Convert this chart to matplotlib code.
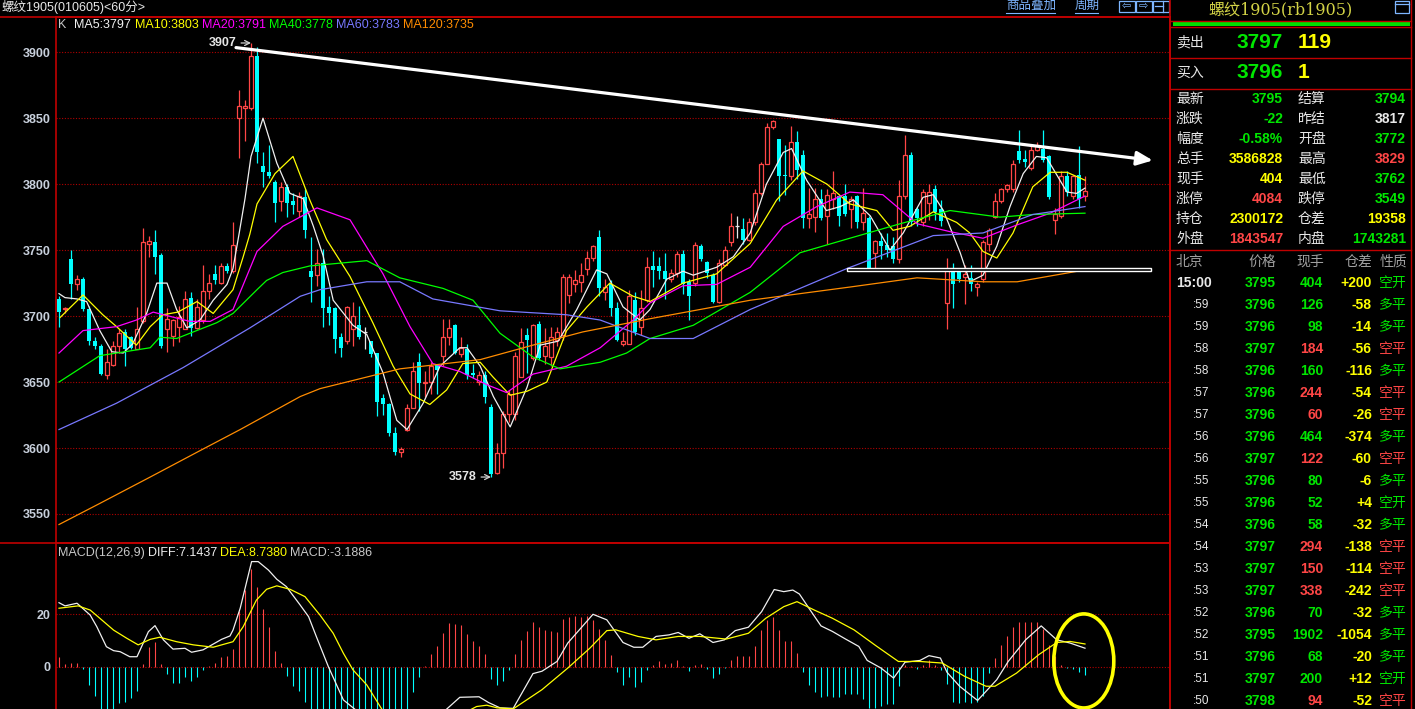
import matplotlib
matplotlib.use('Agg')
import matplotlib.pyplot as plt
from matplotlib.patches import Rectangle, Ellipse
import numpy as np

plt.rcParams['font.family'] = ['Liberation Sans', 'Noto Sans CJK SC', 'DejaVu Sans']

# ---- 60 min candles (open, high, low, close) ----
opens = [3713, 3705, 3743, 3724, 3728, 3705, 3681, 3677, 3655, 3663,
         3677, 3688, 3684, 3675, 3696, 3755, 3756, 3746, 3690, 3685,
         3692, 3690, 3714, 3691, 3697, 3719, 3732, 3725, 3738, 3734,
         3850, 3858, 3858, 3897, 3814, 3809, 3802, 3787, 3798, 3787,
         3780, 3790, 3734, 3731, 3740, 3707, 3706, 3684, 3681, 3690,
         3693, 3688, 3681, 3672, 3638, 3633, 3611, 3597, 3614, 3630,
         3665, 3649, 3650, 3663, 3670, 3684, 3693, 3671, 3675, 3657,
         3650, 3655, 3631, 3581, 3596, 3626, 3626, 3654, 3686, 3668,
         3694, 3670, 3669, 3682, 3686, 3716, 3724, 3726, 3736, 3744,
         3760, 3718, 3724, 3706, 3679, 3679, 3712, 3692, 3712, 3738,
         3738, 3734, 3728, 3733, 3747, 3726, 3725, 3753, 3741, 3731,
         3711, 3739, 3756, 3768, 3766, 3758, 3771, 3793, 3815, 3843,
         3834, 3807, 3806, 3832, 3822, 3774, 3775, 3789, 3776, 3789,
         3791, 3791, 3781, 3791, 3771, 3774, 3748, 3757, 3754, 3753,
         3743, 3791, 3822, 3781, 3771, 3786, 3796, 3781, 3710, 3734,
         3734, 3730, 3729, 3722, 3728, 3755, 3775, 3787, 3796, 3796,
         3825, 3819, 3812, 3826, 3827, 3821, 3773, 3776, 3806, 3791,
         3807, 3791]
highs = [3715, 3707, 3750, 3731, 3730, 3708, 3684, 3679, 3675, 3681,
         3690, 3690, 3685, 3707, 3767, 3761, 3765, 3748, 3706, 3698,
         3708, 3719, 3718, 3713, 3739, 3732, 3739, 3740, 3740, 3771,
         3871, 3864, 3907, 3904, 3824, 3830, 3803, 3802, 3800, 3793,
         3794, 3796, 3760, 3751, 3751, 3715, 3707, 3687, 3708, 3711,
         3708, 3692, 3681, 3672, 3641, 3634, 3616, 3601, 3633, 3665,
         3672, 3658, 3665, 3664, 3698, 3698, 3694, 3684, 3679, 3664,
         3658, 3658, 3633, 3604, 3628, 3644, 3673, 3691, 3691, 3694,
         3696, 3691, 3692, 3692, 3732, 3732, 3735, 3740, 3749, 3754,
         3765, 3728, 3727, 3711, 3688, 3720, 3718, 3720, 3745, 3749,
         3745, 3748, 3736, 3749, 3750, 3728, 3756, 3755, 3742, 3733,
         3743, 3753, 3778, 3776, 3774, 3774, 3796, 3817, 3846, 3849,
         3834, 3830, 3844, 3840, 3826, 3797, 3797, 3796, 3796, 3810,
         3792, 3800, 3791, 3792, 3797, 3776, 3758, 3763, 3763, 3760,
         3803, 3837, 3824, 3783, 3796, 3800, 3799, 3788, 3744, 3740,
         3735, 3739, 3739, 3726, 3758, 3767, 3793, 3797, 3800, 3818,
         3841, 3826, 3830, 3832, 3841, 3822, 3782, 3810, 3810, 3807,
         3829, 3806]
lows = [3692, 3702, 3713, 3720, 3704, 3678, 3675, 3655, 3652, 3662,
        3672, 3662, 3675, 3675, 3695, 3745, 3732, 3676, 3673, 3677,
        3680, 3690, 3685, 3690, 3695, 3713, 3724, 3724, 3733, 3733,
        3820, 3833, 3856, 3816, 3798, 3805, 3771, 3780, 3775, 3777,
        3775, 3759, 3711, 3723, 3692, 3693, 3672, 3669, 3679, 3677,
        3683, 3675, 3669, 3624, 3625, 3609, 3595, 3593, 3613, 3630,
        3628, 3639, 3641, 3641, 3662, 3678, 3671, 3669, 3652, 3653,
        3648, 3634, 3578, 3580, 3585, 3620, 3621, 3654, 3657, 3667,
        3667, 3664, 3662, 3677, 3682, 3710, 3718, 3718, 3731, 3742,
        3715, 3712, 3700, 3681, 3677, 3679, 3686, 3686, 3711, 3722,
        3728, 3713, 3726, 3730, 3717, 3697, 3723, 3742, 3729, 3710,
        3710, 3738, 3753, 3759, 3755, 3757, 3769, 3792, 3815, 3842,
        3787, 3792, 3803, 3804, 3767, 3767, 3764, 3773, 3755, 3781,
        3768, 3776, 3767, 3767, 3765, 3736, 3734, 3743, 3745, 3740,
        3740, 3789, 3768, 3768, 3768, 3773, 3773, 3768, 3690, 3706,
        3726, 3709, 3719, 3715, 3726, 3749, 3774, 3786, 3794, 3794,
        3816, 3813, 3811, 3825, 3817, 3789, 3762, 3774, 3791, 3789,
        3782, 3787]
closes = [3703, 3706, 3724, 3728, 3705, 3681, 3677, 3656, 3665, 3677,
          3687, 3675, 3676, 3690, 3756, 3757, 3745, 3677, 3698, 3697,
          3699, 3713, 3691, 3707, 3719, 3725, 3727, 3738, 3734, 3754,
          3859, 3859, 3897, 3824, 3809, 3806, 3786, 3798, 3786, 3784,
          3791, 3765, 3730, 3740, 3706, 3702, 3683, 3676, 3707, 3700,
          3684, 3688, 3671, 3635, 3633, 3611, 3597, 3599, 3630, 3658,
          3649, 3650, 3662, 3659, 3684, 3691, 3672, 3676, 3655, 3655,
          3655, 3639, 3580, 3596, 3626, 3641, 3670, 3680, 3682, 3693,
          3668, 3677, 3684, 3688, 3730, 3730, 3727, 3731, 3744, 3753,
          3721, 3722, 3706, 3682, 3681, 3715, 3688, 3706, 3737, 3735,
          3734, 3728, 3733, 3747, 3724, 3715, 3754, 3743, 3733, 3711,
          3740, 3750, 3768, 3768, 3758, 3771, 3793, 3815, 3843, 3848,
          3806, 3806, 3832, 3811, 3774, 3777, 3789, 3774, 3792, 3793,
          3776, 3777, 3789, 3771, 3778, 3736, 3757, 3753, 3750, 3743,
          3791, 3822, 3771, 3774, 3794, 3794, 3779, 3772, 3735, 3724,
          3728, 3732, 3724, 3724, 3756, 3765, 3787, 3796, 3799, 3815,
          3818, 3817, 3826, 3829, 3818, 3790, 3777, 3806, 3794, 3806,
          3789, 3795]

# ---- moving averages: (bar, value) ----
ma5 = [(0, 3717), (1, 3714), (3, 3713), (4.6, 3711), (6.8, 3689), (8.8, 3673), (10.7, 3672),
       (12.3, 3679), (14.6, 3702), (16.3, 3725), (18, 3725), (19.6, 3705), (21.3, 3691),
       (23.5, 3697), (25.7, 3712), (28, 3724), (29, 3736), (30, 3762), (31, 3789), (32, 3821),
       (34, 3850), (36.3, 3816), (38.5, 3793), (40.7, 3789), (42.4, 3768), (44, 3746),
       (45.7, 3712), (49, 3693), (51.3, 3686), (54, 3657), (56.3, 3621), (58, 3614),
       (60.7, 3634), (63.5, 3662), (66.8, 3676), (68, 3676), (70.2, 3662), (72.4, 3639),
       (75.2, 3616), (78, 3646), (80.2, 3678), (83.2, 3681), (86.3, 3705), (89.6, 3735),
       (91.3, 3732), (94, 3707), (96.8, 3697), (98.5, 3705), (101.3, 3728), (104, 3734),
       (105.7, 3731), (109.6, 3737), (112.4, 3745), (115.2, 3763), (117.9, 3800),
       (120.7, 3824), (122.1, 3827), (124.6, 3803), (127.9, 3780), (130.2, 3783),
       (132.4, 3788), (135.2, 3776), (138.5, 3750), (140.7, 3763), (144, 3790),
       (145.7, 3792), (147.4, 3780), (150.2, 3748), (151.8, 3726), (154, 3731),
       (156.3, 3753), (158.5, 3783), (160.7, 3808), (162.9, 3821), (164.6, 3820),
       (166.3, 3807), (168, 3794), (169.6, 3793), (171, 3797)]
ma10 = [(0.2, 3699), (4, 3716), (7.3, 3701), (9.6, 3692), (12.9, 3678), (15.2, 3692),
        (17.3, 3701), (19.8, 3703), (23, 3711), (25.7, 3702), (29, 3720), (30.7, 3745),
        (31.8, 3762), (33, 3785), (36, 3808), (39, 3821), (41.8, 3788), (44.6, 3758),
        (48.5, 3730), (52.3, 3695), (55.7, 3662), (58.5, 3641), (61.8, 3633), (64.6, 3644),
        (67.3, 3664), (70.2, 3665), (72.3, 3654), (75.2, 3640), (78, 3643), (81.3, 3650),
        (84.6, 3689), (88, 3707), (91.8, 3725), (95.7, 3715), (98.5, 3711), (104, 3725),
        (109.6, 3732), (115.2, 3755), (119.6, 3788), (124, 3810), (128, 3800),
        (131.8, 3785), (136.3, 3780), (139, 3765), (141.8, 3768), (145.7, 3779),
        (149.6, 3771), (151.8, 3763), (154, 3749), (156.3, 3744), (159, 3763),
        (162.3, 3798), (165.2, 3809), (168, 3809), (171, 3803)]
ma20 = [(0, 3672), (4, 3689), (9.6, 3692), (12.9, 3697), (15.7, 3703), (21.8, 3696),
        (25.2, 3696), (29, 3705), (33, 3749), (37.3, 3768), (43, 3782), (48.5, 3773),
        (54, 3732), (58.5, 3692), (62.3, 3664), (66.8, 3658), (71.3, 3648), (74.6, 3642),
        (79, 3656), (84.6, 3662), (90.2, 3676), (95.7, 3697), (98.5, 3710), (104, 3723),
        (109.6, 3724), (115.2, 3737), (120.7, 3768), (126.3, 3783), (131.8, 3794),
        (137.3, 3792), (143, 3770), (148.5, 3764), (154, 3759), (159.6, 3769),
        (165.2, 3778), (171, 3791)]
ma40 = [(0, 3650), (6.8, 3670), (15.2, 3676), (16.8, 3684), (19.6, 3683), (26.3, 3695),
        (29, 3702), (33, 3720), (34.6, 3727), (37.3, 3733), (41.8, 3738), (51.3, 3742),
        (56.8, 3729), (64, 3721), (69, 3712), (73.5, 3687), (79, 3669), (83.5, 3660),
        (90.2, 3665), (94.6, 3672), (98.5, 3683), (105.7, 3693), (115.2, 3718),
        (123.5, 3748), (131.8, 3759), (140.2, 3770), (148.5, 3780), (156.8, 3775),
        (162.3, 3777), (171, 3778)]
ma60 = [(0, 3614), (9.6, 3634), (20.7, 3661), (31.8, 3691), (40.2, 3715), (43.5, 3720),
        (51.3, 3726), (56.8, 3726), (62.3, 3713), (73.5, 3704), (84.6, 3701), (90.2, 3697),
        (98.5, 3683), (105.7, 3683), (115.2, 3705), (131.3, 3736), (145.7, 3761),
        (154, 3763), (162.3, 3777), (171, 3783)]
ma120 = [(0, 3542), (6.8, 3558), (15.2, 3578), (23.5, 3598), (30.2, 3614), (40.2, 3639),
         (43.5, 3645), (56.8, 3660), (70.2, 3667), (79, 3678), (87.3, 3688), (98.5, 3698),
         (115.2, 3712), (131.8, 3722), (143, 3729), (154, 3726), (159.7, 3726), (171, 3735)]
ma_names = ['MA5', 'MA10', 'MA20', 'MA40', 'MA60', 'MA120']
ma_last = [3797, 3803, 3791, 3778, 3783, 3735]

# ---- MACD(12,26,9) ----
macd_hist = [3.8, 1.1, 1.5, 1.5, -0.9, -6.8, -11, -17, -18.5, -17,
             -13.5, -13.2, -11.9, -9, 1.1, 7.7, 9.5, 1.1, -2.8, -6,
             -6, -3.7, -5.2, -3.7, -1.1, 0.4, 1.6, 3.9, 4.3, 7,
             21.4, 29.2, 37.2, 30.4, 22, 15, 6.1, 1.6, -3.3, -7.1,
             -9.2, -13.2, -17, -22, -26, -30, -33, -35, -35, -34,
             -32, -30, -28, -26, -24, -22, -20, -18, -17, -9.4,
             -3.7, 0.4, 4.9, 8, 12.9, 16.7, 16.3, 15.9, 12.5, 10,
             8, 4.9, -4.4, -7, -5.4, -1.3, 5, 10.3, 13.8, 16.9,
             15, 14.1, 13.8, 13.1, 18.1, 19.1, 19.4, 19.1, 19.4, 17.9,
             14.3, 10.1, 4.7, -2, -6.9, -3.8, -7.7, -5.8, -1.3, 0.8,
             2.1, 1.3, 1.5, 2.8, 0.5, -1.6, 0.8, 1.1, -0.8, -4.2,
             -2.6, -0.5, 2.5, 4.3, 4.0, 4.3, 7.8, 14.1, 17.9, 19.1,
             14.1, 9.7, 9.7, 5.5, -2, -7, -9.6, -11.3, -11.1, -11.3,
             -11.3, -10.1, -10.1, -10.4, -12.1, -15.5, -15.5, -14.8, -14.2, -14.2,
             -7.3, 0.9, 0.5, -0.8, 0.9, 2.8, 0.9, -1, -6.3, -13.3,
             -13.6, -13.3, -13.6, -13.3, -11.1, -2.3, 3.4, 8.4, 11.6, 15.1,
             17.2, 17.2, 17.2, 16.9, 14.3, 8.4, 4, 0.9, -0.4, -0.6,
             -2, -3.19]
diff = [(0, 24.4), (1, 23.2), (3, 24.2), (5.2, 19.7), (6.3, 15.3), (7.9, 7.7), (9.1, 6.2),
        (10.2, 5.8), (11.8, 3.9), (13, 3.9), (14.9, 13.4), (16, 15.7), (17.4, 10.3),
        (19, 6.8), (21, 7.1), (22.1, 5.6), (24, 6.5), (27.1, 10.5), (28.5, 11.8), (29, 14),
        (30.2, 22.3), (32.1, 40), (33.2, 40), (34.9, 36.8), (36.3, 33.3), (37.9, 30.5),
        (40.2, 23.5), (41.6, 19.1), (42.9, 11.5), (44.9, 0.1), (47.4, -12.5), (49.3, -16),
        (52, -21), (55, -25), (58, -26), (61, -23), (63, -19), (64.6, -16), (66.8, -11.5),
        (70, -11.3), (71.6, -13.5), (73.5, -15.5), (75.7, -15.7), (79, -2.5), (80.5, -1.6),
        (83, 2.1), (84.8, 9.1), (89, 20), (91.3, 17.9), (94, 9.3), (95.8, 7.5), (97.3, 7.5),
        (99.5, 11.6), (101.7, 12.2), (103.2, 13.1), (105, 10.9), (106.8, 12.6), (109, 9.3),
        (110.9, 10.3), (112.7, 13.8), (114.9, 15.1), (117.1, 21), (119.2, 29.4),
        (120.8, 28.6), (122.3, 29.2), (123.4, 27.7), (125.2, 21.6), (127, 15.6),
        (128.9, 13.5), (131.1, 10.6), (133.3, 7.8), (134.7, 2.5), (137, -0.4),
        (139.1, -4.2), (141, 1.8), (143.5, 2.5), (145, 4.3), (146.9, 3.4), (148, -2),
        (150.1, -7.3), (153.1, -12.7), (156.3, -4.8), (158.2, 2.1), (161.1, 10.3),
        (163.7, 15.6), (166.3, 10.3), (168.5, 9.1), (171, 7.14)]
dea = [(0, 22.3), (3.2, 23.2), (5.2, 21.6), (6.8, 18.5), (9.1, 14), (11.3, 10.9), (13.2, 8.4),
       (15.2, 10.5), (16.8, 11.3), (19.6, 9.6), (22.4, 8.4), (25.7, 7.5), (29, 9.6),
       (30.7, 15.3), (32.9, 25.4), (34.6, 29.5), (36.3, 30.8), (38.5, 29.5), (41, 26.7),
       (43.5, 19.7), (45.7, 12.8), (47.4, 5.2), (49, -1.1), (51.3, -6.8), (53.8, -16),
       (56, -19), (59, -21), (62, -21.5), (65, -20), (67.5, -17.5), (69.6, -15),
       (71.3, -14.5), (73, -15.5), (75.7, -15.9), (80.5, -8.6), (84.8, -0.4), (88.5, 7.2),
       (91.3, 13.8), (92.8, 14.1), (96.5, 11.6), (99.5, 10.3), (103.2, 11.6), (106.8, 11.6),
       (111.2, 10.6), (114.9, 12.8), (117.8, 18.5), (120.8, 22.9), (123, 24.8),
       (125.9, 21.6), (128.9, 18.5), (132.5, 14.1), (136.2, 8), (139.9, 2.1), (143.5, 2.1),
       (147.2, 1.5), (150.9, -3.5), (154.5, -7.3), (156, -7.3), (159.6, -2.3), (163.3, 4.7),
       (166.3, 9.3), (168.5, 9.7), (171, 8.74)]
macd_text = ['MACD(12,26,9)', 'DIFF:7.1437', 'DEA:8.7380', 'MACD:-3.1886']

# drawn annotations
trend_start = (29.5, 3903.5)
trend_end = (182.3, 3818.0)
support_from, support_to, support_level = 131.3, 182.0, 3735.3
high_mark = (32, 3907)
low_mark = (72, 3578)

# ---- quote panel ----
title_left = '螺纹1905(010605)<60分>'
title_right = '螺纹1905(rb1905)'
ask_price, ask_vol = '3797', '119'
bid_price, bid_vol = '3796', '1'
quote_lab_l = ['最新', '涨跌', '幅度', '总手', '现手', '涨停', '持仓', '外盘']
quote_val_l = ['3795', '-22', '-0.58%', '3586828', '404', '4084', '2300172', '1843547']
quote_lab_r = ['结算', '昨结', '开盘', '最高', '最低', '跌停', '仓差', '内盘']
quote_val_r = ['3794', '3817', '3772', '3829', '3762', '3549', '19358', '1743281']
tick_head = ['北京', '价格', '现手', '仓差', '性质']
tick_time = ['15:00', ':59', ':59', ':58', ':58', ':57', ':57', ':56', ':56', ':55',
             ':55', ':54', ':54', ':53', ':53', ':52', ':52', ':51', ':51', ':50']
tick_price = [3795, 3796, 3796, 3797, 3796, 3796, 3796, 3796, 3797, 3796,
              3796, 3796, 3797, 3797, 3797, 3796, 3795, 3796, 3797, 3798]
tick_vol = [404, 126, 98, 184, 160, 244, 60, 464, 122, 80,
            52, 58, 294, 150, 338, 70, 1902, 68, 200, 94]
tick_oi = ['+200', '-58', '-14', '-56', '-116', '-54', '-26', '-374', '-60', '-6',
           '+4', '-32', '-138', '-114', '-242', '-32', '-1054', '-20', '+12', '-52']
tick_kind = ['空开', '多平', '多平', '空平', '多平', '空平', '空平', '多平', '空平', '多平',
             '空开', '多平', '空平', '空平', '空平', '多平', '多平', '多平', '空开', '空平']

# ---- styles ----
RED = '#FF4646'
CYAN = '#00FFFF'
FRAME = '#C00000'
GRID = '#B00000'
GREEN = '#00E600'
YEL = '#FFFF00'
WHITE = '#E8E8E8'
GRAY = '#A0A0A0'
LINK = '#7EB6FF'
ma_colors = ['#F0F0F0', '#FFFF00', '#FF00FF', '#00FF00', '#7878FF', '#FF8C00']
col_l = [GREEN, GREEN, GREEN, YEL, YEL, RED, YEL, RED]
col_r = [GREEN, WHITE, GREEN, RED, GREEN, GREEN, YEL, GREEN]

W, H = 1415, 709
L, R, T, M = 56, 1170, 17, 543
fig = plt.figure(figsize=(W / 100, H / 100), dpi=100, facecolor='black')
ax = fig.add_axes([L / W, 1 - M / H, (R - L) / W, (M - T) / H], facecolor='black')
mx = fig.add_axes([L / W, 0, (R - L) / W, (H - M) / H], facecolor='black')

for a in (ax, mx):
    a.set_xlim((L - 59) / 6, (R - 59) / 6)
    for s in a.spines.values():
        s.set_color(FRAME)
        s.set_linewidth(1.2)
    a.tick_params(axis='x', bottom=False, labelbottom=False)
    a.tick_params(axis='y', length=0, pad=4, colors='#C8D0DC', labelsize=9)
mx.spines['bottom'].set_visible(False)

ax.set_ylim(3528.0, 3926.7)
ax.set_yticks(range(3550, 3901, 50))
mx.set_ylim(-15.94, 47.06)
mx.set_yticks([0, 20])
for a in (ax, mx):
    for t in a.get_yticklabels():
        t.set_fontweight('bold')
for v in range(3550, 3901, 50):
    ax.axhline(v, color=GRID, lw=0.8, ls=(0, (1, 1.5)), zorder=1)
for v in (0, 20):
    mx.axhline(v, color=GRID, lw=0.8, ls=(0, (1, 1.5)), zorder=1)

# candles
o = np.array(opens, float)
h = np.array(highs, float)
lo = np.array(lows, float)
c = np.array(closes, float)
x = np.arange(len(c))
up, dn, eq = c > o, c < o, c == o
wick_col = np.where(up, RED, np.where(dn, CYAN, WHITE))
ax.vlines(x, lo, h, colors=wick_col, lw=0.9, zorder=3)
bot = np.minimum(o, c)
hgt = np.abs(c - o)
ax.bar(x[up], hgt[up], bottom=bot[up], width=0.64, facecolor='black',
       edgecolor=RED, lw=0.9, zorder=4)
ax.bar(x[dn], hgt[dn], bottom=bot[dn], width=0.8, color=CYAN, lw=0, zorder=4)
ax.hlines(c[eq], x[eq] - 0.4, x[eq] + 0.4, colors=WHITE, lw=0.9, zorder=4)

for pts, colr in zip([ma5, ma10, ma20, ma40, ma60, ma120], ma_colors):
    xs, ys = zip(*pts)
    ax.plot(xs, ys, color=colr, lw=0.9, zorder=5)

ax.annotate('', xy=trend_end, xytext=trend_start, zorder=7,
            arrowprops=dict(arrowstyle='-|>,head_length=0.8,head_width=0.35',
                            color='white', lw=2.3, mutation_scale=12, shrinkA=0, shrinkB=0))
ax.add_patch(Rectangle((support_from, support_level - 0.8), support_to - support_from, 1.6,
                       facecolor='black', edgecolor='white', lw=1.0, zorder=7))
for (mx_i, my_v) in (high_mark, low_mark):
    ax.annotate(f'{my_v}', xy=(mx_i, my_v), xytext=(mx_i - 2.35, my_v), ha='right', va='center',
                color='#E6E6E6', fontsize=9, fontweight='bold', zorder=8,
                arrowprops=dict(arrowstyle='->', color='#D0D0D0', lw=0.9, shrinkA=1, shrinkB=0))

# MACD panel
hist = np.array(macd_hist)
mx.vlines(x, 0, hist, colors=np.where(hist >= 0, RED, CYAN), lw=0.8, zorder=3)
xs, ys = zip(*diff)
mx.plot(xs, ys, color='#F0F0F0', lw=0.9, zorder=4)
xs, ys = zip(*dea)
mx.plot(xs, ys, color=YEL, lw=0.9, zorder=4)
mx.add_patch(Ellipse((170.8, 2.3), 10.0, 35.7, fill=False, ec=YEL, lw=2.6, zorder=6, clip_on=False))

# overlay in pixel coordinates for headers and quote panel
ov = fig.add_axes([0, 0, 1, 1])
ov.set_xlim(0, W)
ov.set_ylim(H, 0)
ov.axis('off')
ov.set_zorder(10)

ov.plot([0, R], [T, T], color=FRAME, lw=1.2)
ov.plot([0, R], [M, M], color=FRAME, lw=1.2)
ov.plot([R, R], [0, H], color=FRAME, lw=1.2)
ov.plot([1411, 1411], [0, H], color=FRAME, lw=1.0)
for yy in (20.8, 26.8, 57.5, 89.3, 249.5):
    ov.plot([R, 1411], [yy, yy], color=FRAME, lw=1.0)
ov.add_patch(Rectangle((1173, 21.8), 237, 4.3, color='#00E000', lw=0))

ov.text(1, 7, title_left, color=WHITE, fontsize=9, va='center', ha='left')
ov.text(1006, 6, '商品叠加', color=LINK, fontsize=9, va='center')
ov.plot([1006, 1055], [13, 13], color=LINK, lw=0.8)
ov.text(1075, 6, '周期', color=LINK, fontsize=9, va='center')
ov.plot([1075, 1098], [13, 13], color=LINK, lw=0.8)
for bx, sym in ((1119, '⇦'), (1136, '⇨'), (1153, '')):
    ov.add_patch(Rectangle((bx, 0.5), 15.5, 11, fill=False, ec=LINK, lw=0.9))
    if sym:
        ov.text(bx + 7.8, 6, sym, color=LINK, fontsize=8, ha='center', va='center',
                family=['DejaVu Sans'])
ov.plot([1163, 1163], [0.5, 11.5], color=LINK, lw=0.9)
ov.plot([1155, 1163], [6, 6], color=LINK, lw=0.9)

# K line legend
legend_x = [74, 135, 202, 269, 336, 403]
ov.text(58, 25, 'K', color='#C8C8C8', fontsize=9, va='center')
for lx, nm, val, colr in zip(legend_x, ma_names, ma_last, ma_colors):
    ov.text(lx, 25, f'{nm}:{val}', color=colr, fontsize=9, va='center')
for lx, s, colr in zip([58, 148, 220, 290], macd_text, ['#C8C8C8', '#F0F0F0', YEL, '#C8C8C8']):
    ov.text(lx, 553, s, color=colr, fontsize=9, va='center')

# right quote panel
ov.text(1281, 9.5, title_right, color='#D2D246', fontsize=11.5, ha='center', va='center',
        family=['DejaVu Serif', 'Noto Sans CJK SC'])
ov.add_patch(Rectangle((1395, 1), 14, 12, fill=False, ec=LINK, lw=0.9))
ov.plot([1395, 1409], [4, 4], color=LINK, lw=0.9)

for yy, lab, pr, vol in ((42, '卖出', ask_price, ask_vol), (73, '买入', bid_price, bid_vol)):
    ov.text(1176, yy, lab, color=WHITE, fontsize=10, va='center')
    ov.text(1283, yy, pr, color=GREEN, fontsize=15, fontweight='bold', ha='right', va='center')
    ov.text(1298, yy, vol, color=YEL, fontsize=15, fontweight='bold', ha='left', va='center')

for k in range(len(quote_lab_l)):
    yy = 99 + 20 * k
    ov.text(1176, yy, quote_lab_l[k], color=WHITE, fontsize=10, va='center')
    ov.text(1283, yy, quote_val_l[k], color=col_l[k], fontsize=10, fontweight='bold',
            ha='right', va='center')
    ov.text(1298, yy, quote_lab_r[k], color=WHITE, fontsize=10, va='center')
    ov.text(1406, yy, quote_val_r[k], color=col_r[k], fontsize=10, fontweight='bold',
            ha='right', va='center')

head_x = [(1176, 'left'), (1262, 'center'), (1310, 'center'), (1358, 'center'), (1394, 'center')]
for (hx, ha), s in zip(head_x, tick_head):
    ov.text(hx, 262, s, color=GRAY, fontsize=10, ha=ha, va='center')

for k in range(len(tick_time)):
    yy = 283 + 22 * k
    kind_col = RED if tick_kind[k] == '空平' else GREEN
    if k == 0:
        ov.text(1176, yy, tick_time[k], color=WHITE, fontsize=10, fontweight='bold', va='center')
    else:
        ov.text(1193, yy, tick_time[k], color=WHITE, fontsize=8.5, va='center')
    ov.text(1276, yy, str(tick_price[k]), color=GREEN, fontsize=10, fontweight='bold',
            ha='right', va='center')
    ov.text(1323, yy, str(tick_vol[k]), color=kind_col, fontsize=10, fontweight='bold',
            ha='right', va='center')
    ov.text(1372, yy, tick_oi[k], color=YEL, fontsize=10, fontweight='bold', ha='right', va='center')
    ov.text(1407, yy, tick_kind[k], color=kind_col, fontsize=10, ha='right', va='center')

fig.savefig('out.png', dpi=100, facecolor='black')
